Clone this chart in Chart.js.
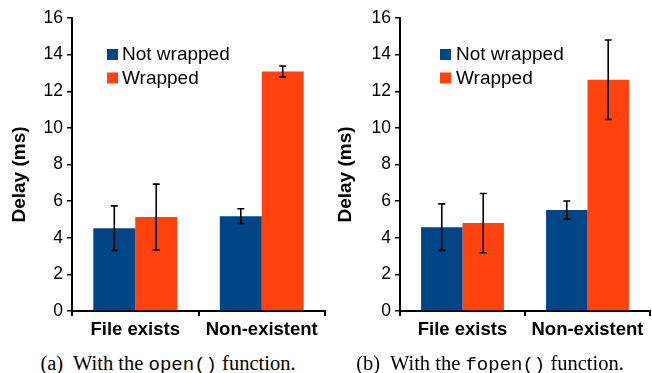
<!DOCTYPE html>
<html>
<head>
<meta charset="utf-8">
<script src="https://cdn.jsdelivr.net/npm/chart.js@4/dist/chart.umd.min.js"></script>
<style>
  html, body { margin: 0; padding: 0; background: #fff; }
  #wrap { position: relative; width: 652px; height: 373px; overflow: hidden; }
  canvas { position: absolute; top: 0; }
  .cap { position: absolute; top: 353px; height: 20px; line-height: 20px; text-align: center;
         font-family: "Liberation Serif", "DejaVu Serif", serif; font-size: 20.5px; color: #000; white-space: nowrap; }
  .mono { font-family: "Liberation Mono", "DejaVu Sans Mono", monospace; font-size: 19px; }
</style>
</head>
<body>
<div id="wrap">
  <canvas id="c1" width="330" height="345" style="left:0px"></canvas>
  <canvas id="c2" width="324" height="345" style="left:328px"></canvas>
  <div class="cap" style="left:8px;width:320px">(a)&nbsp; With the <span class="mono">open()</span> function.</div>
  <div class="cap" style="left:330px;width:320px">(b)&nbsp; With the <span class="mono">fopen()</span> function.</div>
</div>
<script>
// ---- data ----
const categories = ["File exists", "Non-existent"];
const seriesNames = ["Not wrapped", "Wrapped"];
const yTicks = [0, 2, 4, 6, 8, 10, 12, 14, 16];
const yTitle = "Delay (ms)";

// (a) open()
const openNotWrapped = [4.52, 5.18];
const openNotWrappedErr = [1.22, 0.40];
const openWrapped = [5.13, 13.08];
const openWrappedErr = [1.80, 0.30];

// (b) fopen()
const fopenNotWrapped = [4.58, 5.51];
const fopenNotWrappedErr = [1.27, 0.50];
const fopenWrapped = [4.80, 12.63];
const fopenWrappedErr = [1.62, 2.17];

const colors = ["#004586", "#ff420e"];
const FONT = "'Liberation Sans', Arial, Helvetica, sans-serif";

const errorBarPlugin = {
  id: 'errorBars',
  afterDatasetsDraw(chart) {
    const ctx = chart.ctx;
    const y = chart.scales.y;
    ctx.save();
    ctx.strokeStyle = '#000';
    ctx.lineWidth = 1.6;
    chart.data.datasets.forEach((ds, i) => {
      const meta = chart.getDatasetMeta(i);
      meta.data.forEach((bar, j) => {
        const v = ds.data[j], e = ds.errors[j];
        const yHi = y.getPixelForValue(v + e);
        const yLo = y.getPixelForValue(v - e);
        const x = bar.x;
        ctx.beginPath();
        ctx.moveTo(x, yHi); ctx.lineTo(x, yLo);
        ctx.moveTo(x - 3.5, yHi); ctx.lineTo(x + 3.5, yHi);
        ctx.moveTo(x - 3.5, yLo); ctx.lineTo(x + 3.5, yLo);
        ctx.stroke();
      });
    });
    ctx.restore();
  }
};

const legendTitlePlugin = {
  id: 'legendTitle',
  afterDraw(chart, args, opts) {
    const ctx = chart.ctx;
    const a = chart.chartArea;
    ctx.save();
    // legend
    ctx.font = "19px " + FONT;
    ctx.textBaseline = 'alphabetic';
    ctx.textAlign = 'left';
    chart.data.datasets.forEach((ds, i) => {
      const top = 49 + i * 23.5;
      ctx.fillStyle = ds.backgroundColor;
      ctx.fillRect(a.left + opts.legX, top, 11, 11);
      ctx.fillStyle = '#000';
      ctx.fillText(ds.label, a.left + opts.legX + opts.textDx, top + 11);
    });
    // y title
    ctx.font = "bold 19px " + FONT;
    ctx.textAlign = 'center';
    ctx.textBaseline = 'middle';
    ctx.translate(opts.titleX, 174.5);
    ctx.rotate(-Math.PI / 2);
    ctx.fillStyle = '#000';
    ctx.fillText(yTitle, 0, 0);
    ctx.restore();
  }
};

function makeChart(id, notW, notWErr, w, wErr, rightPad, legX, textDx, titleX) {
  return new Chart(document.getElementById(id), {
    type: 'bar',
    data: {
      labels: categories,
      datasets: [
        { label: seriesNames[0], data: notW, errors: notWErr, backgroundColor: colors[0],
          barPercentage: 1.0, categoryPercentage: 0.663, borderWidth: 0 },
        { label: seriesNames[1], data: w, errors: wErr, backgroundColor: colors[1],
          barPercentage: 1.0, categoryPercentage: 0.663, borderWidth: 0 }
      ]
    },
    options: {
      responsive: false,
      animation: false,
      devicePixelRatio: 1,
      layout: { padding: { top: 18, right: rightPad, left: 0, bottom: 0 } },
      plugins: {
        legend: { display: false },
        tooltip: { enabled: false },
        legendTitle: { legX: legX, textDx: textDx, titleX: titleX }
      },
      scales: {
        x: {
          afterFit(s) { s.height = 34; },
          grid: { display: true, drawOnChartArea: false, drawTicks: true, tickLength: 5,
                  color: '#000', lineWidth: 2, offset: true },
          border: { display: true, color: '#000', width: 2 },
          ticks: { color: '#000', padding: 3, font: { family: FONT, size: 18.5, weight: 'bold' } }
        },
        y: {
          min: 0, max: 16,
          afterFit(s) { s.width = 72; },
          afterBuildTicks(s) { s.ticks = yTicks.map(v => ({ value: v })); },
          grid: { display: true, drawOnChartArea: false, drawTicks: true, tickLength: 5,
                  color: '#000', lineWidth: 1.5 },
          border: { display: true, color: '#000', width: 2 },
          ticks: { color: '#000', padding: 4, font: { family: FONT, size: 17.5 } }
        }
      }
    },
    plugins: [errorBarPlugin, legendTitlePlugin]
  });
}

makeChart('c1', openNotWrapped, openNotWrappedErr, openWrapped, openWrappedErr, 5, 35, 15, 19.5);
makeChart('c2', fopenNotWrapped, fopenNotWrappedErr, fopenWrapped, fopenWrappedErr, 2, 40, 16, 17.5);
</script>
</body>
</html>
